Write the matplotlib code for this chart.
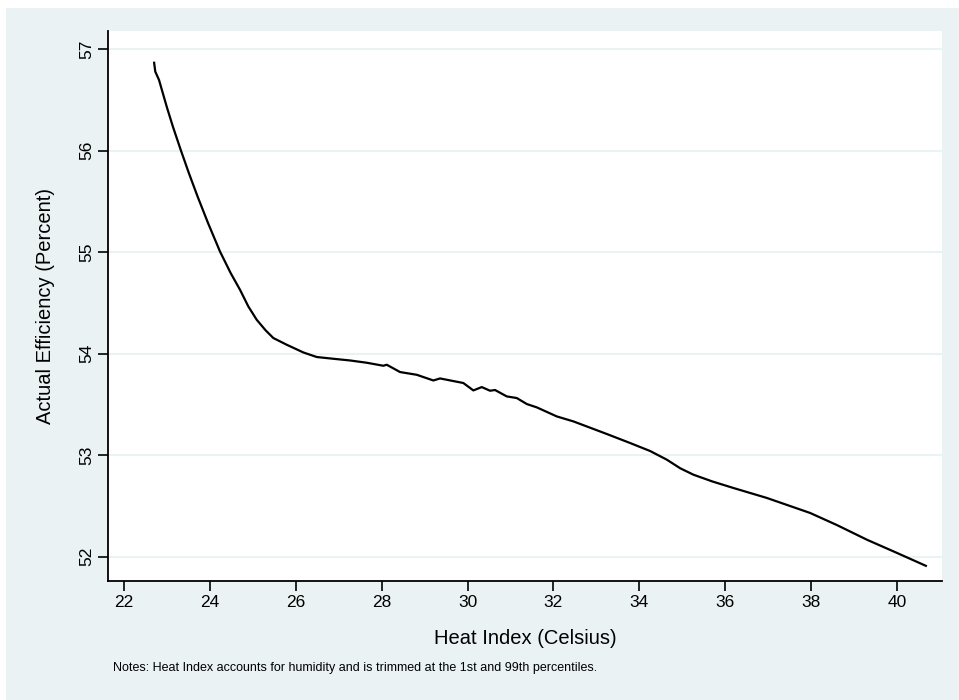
import matplotlib
matplotlib.use("Agg")
import matplotlib.pyplot as plt
from matplotlib.patches import Rectangle

# Data
heat_index = [22.705, 22.735, 22.822, 23.001, 23.145, 23.327, 23.517, 23.720, 23.964, 24.241,
              24.490, 24.707, 24.900, 25.095, 25.300, 25.482, 25.793, 26.180, 26.492, 26.850,
              27.266, 27.650, 28.041, 28.121, 28.430, 28.819, 29.205, 29.361, 29.903, 30.136,
              30.331, 30.524, 30.641, 30.913, 31.146, 31.379, 31.612, 32.077, 32.463, 33.240,
              33.783, 34.250, 34.637, 34.950, 35.256, 35.700, 36.187, 36.964, 37.972, 38.600,
              39.291, 40.000, 40.688]
efficiency = [56.875, 56.777, 56.695, 56.432, 56.235, 56.006, 55.777, 55.546, 55.284, 55.005,
              54.792, 54.628, 54.464, 54.333, 54.230, 54.153, 54.087, 54.011, 53.966, 53.950,
              53.932, 53.910, 53.880, 53.890, 53.818, 53.791, 53.735, 53.755, 53.710, 53.637,
              53.670, 53.634, 53.641, 53.578, 53.562, 53.503, 53.470, 53.381, 53.332, 53.208,
              53.119, 53.040, 52.955, 52.870, 52.807, 52.740, 52.676, 52.578, 52.430, 52.310,
              52.167, 52.035, 51.905]
x_ticks = [22, 24, 26, 28, 30, 32, 34, 36, 38, 40]
y_ticks = [52, 53, 54, 55, 56, 57]

plt.rcParams['font.family'] = ['Liberation Sans', 'DejaVu Sans']

W, H = 959, 700
fig = plt.figure(figsize=(W / 100, H / 100), dpi=100)
fig.patch.set_facecolor('white')
bg = '#EAF2F3'
fig.patches.append(Rectangle((6 / W, 0), 1 - 6 / W, 1 - 8 / H, transform=fig.transFigure,
                             facecolor=bg, edgecolor='none', zorder=-10))

ax = fig.add_axes([108 / W, 1 - 581 / H, (942 - 108) / W, (581 - 31) / H])
ax.set_facecolor('white')
ax.plot(heat_index, efficiency, color='black', linewidth=1.6, zorder=3,
        solid_joinstyle='round', solid_capstyle='butt')

ax.set_xlim(21.635, 41.04)
ax.set_ylim(51.76, 57.177)
ax.set_xticks(x_ticks)
ax.set_yticks(y_ticks)
ax.set_yticklabels([str(v) for v in y_ticks], rotation=90, va='center')
ax.grid(axis='y', color=bg, linewidth=1.5, zorder=0)
ax.grid(axis='x', visible=False)

for s in ['top', 'right']:
    ax.spines[s].set_visible(False)
for s in ['left', 'bottom']:
    ax.spines[s].set_linewidth(1.3)
    ax.spines[s].set_color('black')

ax.tick_params(axis='both', direction='out', length=7, width=1.2, labelsize=12.5, colors='black')
ax.tick_params(axis='x', pad=3)
ax.tick_params(axis='y', pad=3)

ax.set_xlabel('Heat Index (Celsius)', fontsize=14.5, va='center')
ax.xaxis.set_label_coords(0.5, (581 - 639) / 550)
ax.set_ylabel('Actual Efficiency (Percent)', fontsize=14.5, va='center')
ax.yaxis.set_label_coords((46 - 108) / 834, 0.5)

fig.text(112.7 / W, 1 - 667.7 / H,
         'Notes: Heat Index accounts for humidity and is trimmed at the 1st and 99th percentiles.',
         fontsize=9.0, va='center', ha='left')

fig.savefig('out.png', dpi=100)
